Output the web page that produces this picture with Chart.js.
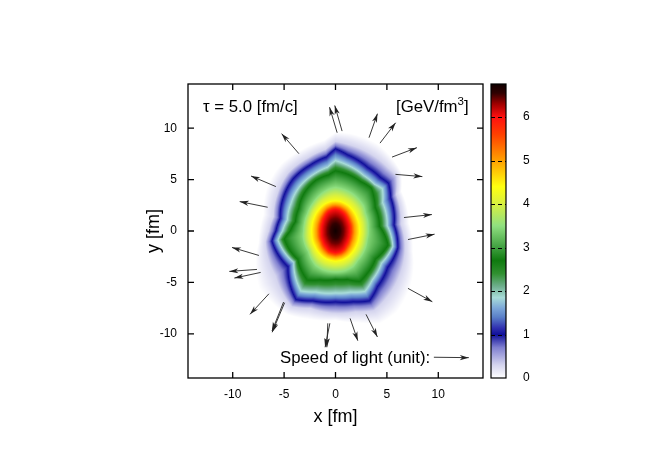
<!DOCTYPE html>
<html>
<head>
<meta charset="utf-8">
<script src="https://cdn.jsdelivr.net/npm/chart.js@4"></script>
<style>
  html, body { margin: 0; padding: 0; background: #fff; }
  #wrap { position: relative; width: 670px; height: 469px; overflow: hidden; }
  #main { position: absolute; left: 0; top: 0; }
  #bar { position: absolute; left: 480px; top: 0; }
</style>
</head>
<body>
<div id="wrap">
  <canvas id="main" width="670" height="469"></canvas>
  <canvas id="bar" width="90" height="469"></canvas>
</div>
<script>
const xTicks = [-10, -5, 0, 5, 10];
const yTicks = [-10, -5, 0, 5, 10];
const barTicks = [0, 1, 2, 3, 4, 5, 6];
const barMax = 6.76;

// colour scale
const paletteValues = [0, 0.3, 0.7, 1.0, 1.15, 1.4, 1.6, 1.85, 2.1, 2.4, 2.7, 3.0, 3.5, 4.0, 4.4, 5.0, 5.6, 6.0, 6.3, 6.55, 6.76];
const paletteColors = ['#ffffff', '#d4d4ee', '#8080d0', '#10109a', '#3030b0', '#5a80c8', '#7ba6d8', '#a8dcd8', '#70b090', '#309030', '#0f7a0f', '#40a040', '#90e080', '#d8f040', '#ffff10', '#ffa000', '#ff4000', '#ff1010', '#a00000', '#300000', '#100000'];

// energy density: radius [fm] of each level along these directions (degrees)
const contourAngles = [6, 31, 42, 50, 63, 81, 90, 97, 111, 129, 148, 167, 180, 189, 217, 240, 252, 270, 284, 296, 307, 325, 345];
const level0_0 = [7.2, 7.5, 8.6, 8.9, 9.4, 9.6, 9.6, 8.9, 8.6, 8.4, 7.9, 7.2, 7.4, 7.6, 9.3, 9.4, 9.0, 8.7, 9.2, 10.0, 9.9, 9.0, 7.8];
const level0_3 = [6.4, 6.9, 8.0, 8.0, 8.2, 8.5, 8.7, 8.0, 7.6, 7.3, 6.7, 6.2, 6.5, 6.9, 7.3, 8.5, 7.9, 8.0, 8.1, 8.6, 8.2, 7.6, 7.0];
const level1_0 = [5.73, 6.28, 6.94, 6.8, 6.93, 7.5, 8.0, 7.26, 6.87, 6.54, 6.02, 5.53, 5.8, 6.27, 5.78, 7.7, 7.15, 6.9, 7.1, 7.56, 6.78, 6.19, 6.28];
const level1_8 = [5.1, 5.4, 6.2, 5.95, 6.1, 6.6, 6.9, 6.3, 5.95, 5.6, 5.15, 4.85, 5.2, 5.7, 5.1, 6.8, 6.3, 6.1, 6.2, 6.6, 6.0, 5.5, 5.8];
const level2_7 = [4.3, 4.5, 5.0, 5.45, 5.4, 5.7, 5.85, 5.5, 5.3, 4.8, 4.2, 4.0, 4.4, 5.05, 4.6, 5.5, 5.0, 4.7, 4.85, 5.45, 5.15, 4.75, 5.3];
const level3_4 = [3.3, 3.5, 3.8, 3.9, 4.1, 4.3, 4.4, 4.3, 4.0, 3.6, 3.3, 3.2, 3.2, 3.3, 3.4, 4.0, 4.1, 4.1, 4.1, 4.0, 3.7, 3.5, 3.3];
const level4_3 = [2.41, 2.52, 2.62, 2.7, 2.84, 2.98, 3.0, 2.99, 2.9, 2.71, 2.53, 2.42, 2.4, 2.41, 2.57, 2.81, 2.92, 3.0, 2.95, 2.85, 2.73, 2.56, 2.43];
const level5_0 = [1.86, 1.96, 2.05, 2.15, 2.35, 2.52, 2.55, 2.54, 2.42, 2.15, 1.95, 1.86, 1.85, 1.86, 2.0, 2.33, 2.47, 2.55, 2.5, 2.37, 2.2, 1.98, 1.87];
const level6_0 = [1.36, 1.47, 1.56, 1.65, 1.83, 2.05, 2.1, 2.07, 1.95, 1.67, 1.46, 1.37, 1.35, 1.36, 1.52, 1.78, 2.0, 2.1, 2.03, 1.87, 1.66, 1.48, 1.37];
const level6_4 = [0.82, 0.88, 0.94, 1.0, 1.1, 1.23, 1.26, 1.24, 1.17, 1.0, 0.88, 0.82, 0.81, 0.82, 0.91, 1.07, 1.2, 1.26, 1.22, 1.12, 1.0, 0.89, 0.82];

const contourValues = [6.4, 6.0, 5.0, 4.3, 3.4, 2.7, 1.8, 1.0, 0.3, 0];
const contourRadii = [level6_4, level6_0, level5_0, level4_3, level3_4, level2_7, level1_8, level1_0, level0_3, level0_0];

// flow velocity arrows [fm]
const arrowTailX = [-3.56, -5.80, -6.60, 0.16, 0.64, 3.26, 4.33, 5.50, 5.83, 6.66, 7.05, 7.05, 2.97, 1.42, -7.45, -7.64, -7.28, -6.48, -4.95, -5.05, -0.55, -0.75, 9.57];
const arrowTailY = [7.52, 4.32, 2.31, 9.56, 9.72, 9.08, 8.55, 7.19, 5.51, 1.31, -0.83, -5.58, -8.11, -8.50, -2.38, -3.74, -4.03, -6.11, -6.98, -6.91, -8.98, -8.98, -12.28];
const arrowHeadX = [-5.24, -8.22, -9.32, -0.58, -0.07, 4.08, 5.85, 7.92, 8.45, 9.38, 9.64, 9.42, 4.08, 2.17, -10.07, -10.33, -9.84, -8.32, -6.16, -6.18, -1.01, -0.84, 12.97];
const arrowHeadY = [9.47, 5.35, 2.86, 12.05, 12.21, 11.41, 10.53, 8.11, 5.29, 1.60, -0.31, -6.88, -10.31, -10.67, -1.60, -3.93, -4.58, -8.11, -9.85, -9.73, -11.31, -11.31, -12.32];

const FONT = '"Liberation Sans", Arial, sans-serif';

const hexToRgb = (h) => [1, 3, 5].map(i => parseInt(h.slice(i, i + 2), 16));
const paletteRgb = paletteColors.map(hexToRgb);

// colour for a value, blended between the palette stops
const colorFor = (v) => {
  let i = 0;
  while (i < paletteValues.length - 2 && v > paletteValues[i + 1]) i++;
  const t = Math.min(1, Math.max(0, (v - paletteValues[i]) / (paletteValues[i + 1] - paletteValues[i])));
  const a = paletteRgb[i], b = paletteRgb[i + 1];
  return [a[0] + (b[0] - a[0]) * t, a[1] + (b[1] - a[1]) * t, a[2] + (b[2] - a[2]) * t];
};

// value at (x, y) from the contour table
const valueAt = (x, y) => {
  const r = Math.hypot(x, y);
  let deg = Math.atan2(y, x) * 180 / Math.PI;
  if (deg < contourAngles[0]) deg += 360;
  const n = contourAngles.length;
  let j = n - 1;
  for (let k = 0; k < n - 1; k++) {
    if (deg >= contourAngles[k] && deg < contourAngles[k + 1]) { j = k; break; }
  }
  const j2 = (j + 1) % n;
  const a0 = contourAngles[j];
  const a1 = j2 === 0 ? contourAngles[0] + 360 : contourAngles[j2];
  const t = (deg - a0) / (a1 - a0);
  let prevR = 0, prevV = barMax;
  for (let l = 0; l < contourValues.length; l++) {
    const rl = contourRadii[l][j] * (1 - t) + contourRadii[l][j2] * t;
    if (r <= rl) return prevV + (contourValues[l] - prevV) * (r - prevR) / (rl - prevR);
    prevR = rl;
    prevV = contourValues[l];
  }
  return 0;
};

const heatPlugin = {
  id: 'heat',
  beforeDatasetsDraw(chart) {
    const { ctx, chartArea: area, scales } = chart;
    const w = Math.round(area.right - area.left);
    const h = Math.round(area.bottom - area.top);
    const off = document.createElement('canvas');
    off.width = w;
    off.height = h;
    const octx = off.getContext('2d');
    const img = octx.createImageData(w, h);
    for (let py = 0; py < h; py++) {
      const y = scales.y.getValueForPixel(area.top + py + 0.5);
      for (let px = 0; px < w; px++) {
        const x = scales.x.getValueForPixel(area.left + px + 0.5);
        const c = colorFor(valueAt(x, y));
        const o = (py * w + px) * 4;
        img.data[o] = c[0];
        img.data[o + 1] = c[1];
        img.data[o + 2] = c[2];
        img.data[o + 3] = 255;
      }
    }
    octx.putImageData(img, 0, 0);
    // slight blur softens the corners of the contour table
    ctx.save();
    ctx.beginPath();
    ctx.rect(area.left, area.top, w, h);
    ctx.clip();
    ctx.filter = 'blur(0.5px)';
    ctx.drawImage(off, area.left, area.top);
    ctx.restore();
  }
};

const arrowPlugin = {
  id: 'arrows',
  afterDatasetsDraw(chart) {
    const { ctx, scales } = chart;
    ctx.save();
    ctx.fillStyle = '#222';
    arrowHeadX.forEach((hx, i) => {
      const x1 = scales.x.getPixelForValue(arrowTailX[i]);
      const y1 = scales.y.getPixelForValue(arrowTailY[i]);
      const x2 = scales.x.getPixelForValue(hx);
      const y2 = scales.y.getPixelForValue(arrowHeadY[i]);
      const ang = Math.atan2(y2 - y1, x2 - x1);
      ctx.save();
      ctx.translate(x2, y2);
      ctx.rotate(ang);
      ctx.beginPath();
      ctx.moveTo(0, 0);
      ctx.lineTo(-9, -2.6);
      ctx.lineTo(-6.5, 0);
      ctx.lineTo(-9, 2.6);
      ctx.closePath();
      ctx.fill();
      ctx.restore();
    });
    ctx.restore();
  }
};

// frame, inward ticks and the text inside the plot
const framePlugin = {
  id: 'frame',
  afterDraw(chart) {
    const { ctx, chartArea: a, scales } = chart;
    ctx.save();
    ctx.strokeStyle = '#000';
    ctx.lineWidth = 1.3;
    ctx.beginPath();
    xTicks.forEach(t => {
      const p = scales.x.getPixelForValue(t);
      ctx.moveTo(p, a.bottom); ctx.lineTo(p, a.bottom - 6);
      ctx.moveTo(p, a.top); ctx.lineTo(p, a.top + 6);
    });
    yTicks.forEach(t => {
      const p = scales.y.getPixelForValue(t);
      ctx.moveTo(a.left, p); ctx.lineTo(a.left + 6, p);
      ctx.moveTo(a.right, p); ctx.lineTo(a.right - 6, p);
    });
    ctx.stroke();
    ctx.strokeRect(a.left, a.top, a.right - a.left, a.bottom - a.top);

    ctx.fillStyle = '#000';
    ctx.textBaseline = 'alphabetic';
    ctx.textAlign = 'left';
    ctx.font = '16.8px ' + FONT;
    ctx.fillText('τ = 5.0 [fm/c]', 203, 112);
    ctx.fillText('Speed of light (unit):', 280, 363);
    ctx.fillText('[GeV/fm', 396, 112);
    const w = ctx.measureText('[GeV/fm').width;
    ctx.font = '11.5px ' + FONT;
    ctx.fillText('3', 396 + w, 105);
    const w3 = ctx.measureText('3').width;
    ctx.font = '16.8px ' + FONT;
    ctx.fillText(']', 396 + w + w3, 112);
    ctx.restore();
  }
};

new Chart(document.getElementById('main'), {
  type: 'scatter',
  data: {
    datasets: arrowHeadX.map((hx, i) => ({
      data: [{ x: arrowTailX[i], y: arrowTailY[i] }, { x: hx, y: arrowHeadY[i] }],
      showLine: true,
      borderColor: '#222',
      borderWidth: 0.9,
      pointRadius: 0,
      tension: 0
    }))
  },
  options: {
    responsive: false,
    animation: false,
    layout: { padding: { left: 143, right: 187, top: 84, bottom: 41 } },
    plugins: { legend: { display: false }, tooltip: { enabled: false }, title: { display: false } },
    scales: {
      x: {
        min: -14.35,
        max: 14.35,
        afterBuildTicks: (s) => { s.ticks = xTicks.map(v => ({ value: v })); },
        afterFit: (s) => { s.height = 50; },
        grid: { display: false },
        border: { display: false },
        ticks: { color: '#000', font: { family: FONT, size: 12 }, padding: 1, maxRotation: 0 },
        title: { display: true, text: 'x [fm]', color: '#000', font: { family: FONT, size: 18 }, padding: 0 }
      },
      y: {
        min: -14.3,
        max: 14.3,
        afterBuildTicks: (s) => { s.ticks = yTicks.map(v => ({ value: v })); },
        afterFit: (s) => { s.width = 45; },
        grid: { display: false },
        border: { display: false },
        ticks: { color: '#000', font: { family: FONT, size: 12 }, padding: 3 },
        title: { display: true, text: 'y [fm]', color: '#000', font: { family: FONT, size: 18 }, padding: 0 }
      }
    }
  },
  plugins: [heatPlugin, arrowPlugin, framePlugin]
});

// colour bar as a single floating bar with the palette as gradient
const barTickPlugin = {
  id: 'barTicks',
  afterDraw(chart) {
    const { ctx, chartArea: a, scales } = chart;
    ctx.save();
    ctx.strokeStyle = '#000';
    ctx.lineWidth = 1.2;
    ctx.setLineDash([4, 3]);
    barTicks.forEach(t => {
      if (t === 0) return;
      const p = Math.round(scales.y.getPixelForValue(t)) + 0.5;
      ctx.beginPath();
      ctx.moveTo(a.left, p);
      ctx.lineTo(a.right, p);
      ctx.stroke();
    });
    ctx.setLineDash([]);
    ctx.strokeRect(a.left, a.top, a.right - a.left, a.bottom - a.top);
    ctx.restore();
  }
};

new Chart(document.getElementById('bar'), {
  type: 'bar',
  data: {
    labels: [''],
    datasets: [{
      data: [[0, barMax]],
      barPercentage: 1,
      categoryPercentage: 1,
      backgroundColor: (c) => {
        const { chart } = c;
        if (!chart.chartArea) return '#888';
        const y = chart.scales.y;
        const g = chart.ctx.createLinearGradient(0, y.getPixelForValue(0), 0, y.getPixelForValue(barMax));
        paletteValues.forEach((v, i) => g.addColorStop(v / barMax, paletteColors[i]));
        return g;
      }
    }]
  },
  options: {
    responsive: false,
    animation: false,
    layout: { padding: { left: 11, right: 0, top: 84, bottom: 91 } },
    plugins: { legend: { display: false }, tooltip: { enabled: false } },
    scales: {
      x: { display: false },
      y: {
        position: 'right',
        min: 0,
        max: barMax,
        afterBuildTicks: (s) => { s.ticks = barTicks.map(v => ({ value: v })); },
        afterFit: (s) => { s.width = 64; },
        grid: { display: false },
        border: { display: false },
        ticks: { color: '#000', font: { family: FONT, size: 12 }, padding: 9 }
      }
    }
  },
  plugins: [barTickPlugin]
});
</script>
</body>
</html>
